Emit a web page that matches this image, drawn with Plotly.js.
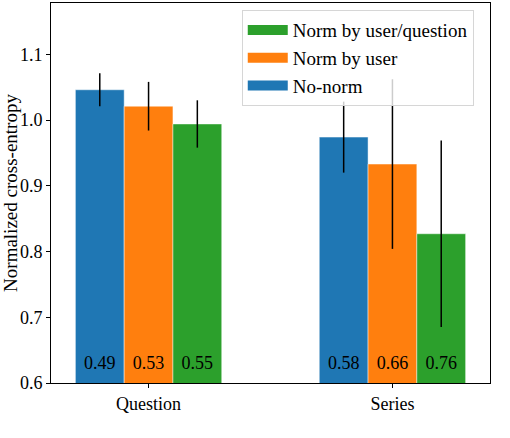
<!DOCTYPE html>
<html>
<head>
<meta charset="utf-8">
<script src="https://cdn.plot.ly/plotly-3.0.1.min.js"></script>
<style>
html,body{margin:0;padding:0;background:#fff;}
#chart{width:510px;height:438px;}
</style>
</head>
<body>
<div id="chart"></div>
<script>
var categories = ["Question", "Series"];
var seriesNames = ["No-norm", "Norm by user", "Norm by user/question"];
var noNorm = [1.046, 0.974];
var normUser = [1.021, 0.933];
var normUserQuestion = [0.994, 0.827];
var errNoNorm = [0.025, 0.054];
var errNormUser = [0.037, 0.129];
var errNormUserQuestion = [0.036, 0.142];
var labelsNoNorm = ["0.49", "0.58"];
var labelsNormUser = ["0.53", "0.66"];
var labelsNormUserQuestion = ["0.55", "0.76"];
var yTicks = [0.6, 0.7, 0.8, 0.9, 1.0, 1.1];
var yTickText = ["0.6", "0.7", "0.8", "0.9", "1.0", "1.1"];

var colors = ["#1f77b4", "#ff7f0e", "#2ca02c"];
var font = "Liberation Serif";
var yMin = 0.6, yMax = 1.178;
var labelLevel = yMin + 0.05 * (yMax - yMin);

function bar(name, vals, errs, color, idx) {
  return {
    type: "bar", name: name, x: categories, y: vals,
    offsetgroup: String(idx), alignmentgroup: "a",
    marker: {color: color, line: {color: "rgba(255,255,255,0.45)", width: 1}},
    error_y: {type: "data", array: errs, visible: true, color: "#000", thickness: 1.5, width: 0},
    showlegend: false, hoverinfo: "none"
  };
}
function legendPatch(name, color, rank) {
  return {
    type: "scatter", mode: "lines", name: name, x: [null], y: [null],
    line: {color: color, width: 13}, legendrank: rank, showlegend: true, hoverinfo: "none"
  };
}
function labels(txt, idx) {
  return {
    type: "scatter", mode: "text", x: categories, y: categories.map(function(){return labelLevel;}),
    offsetgroup: String(idx), alignmentgroup: "a",
    text: txt, textposition: "middle center",
    textfont: {family: font, size: 18, color: "#000"},
    showlegend: false, hoverinfo: "none", cliponaxis: false
  };
}

var data = [
  bar(seriesNames[0], noNorm, errNoNorm, colors[0], 0),
  bar(seriesNames[1], normUser, errNormUser, colors[1], 1),
  bar(seriesNames[2], normUserQuestion, errNormUserQuestion, colors[2], 2),
  labels(labelsNoNorm, 0),
  labels(labelsNormUser, 1),
  labels(labelsNormUserQuestion, 2),
  legendPatch(seriesNames[2], colors[2], 1),
  legendPatch(seriesNames[1], colors[1], 2),
  legendPatch(seriesNames[0], colors[0], 3)
];

var layout = {
  width: 510, height: 438,
  margin: {l: 51, r: 20, t: 3, b: 55},
  paper_bgcolor: "#fff", plot_bgcolor: "#fff",
  font: {family: font, size: 18, color: "#000"},
  barmode: "group", bargap: 0.4, bargroupgap: 0,
  scattermode: "group", scattergap: 0.4,
  showlegend: true,
  legend: {
    traceorder: "normal", x: 0.963, xanchor: "right", y: 0.981, yanchor: "top",
    bgcolor: "rgba(255,255,255,0.8)", bordercolor: "#d6d6d6", borderwidth: 1,
    font: {family: font, size: 19, color: "#000"}, tracegroupgap: 0, itemwidth: 40
  },
  xaxis: {
    type: "category", range: [-0.4, 1.4], showgrid: false, zeroline: false,
    showline: true, linecolor: "#000", linewidth: 1, mirror: true,
    ticks: "outside", ticklen: 4, tickcolor: "#000",
    tickfont: {family: font, size: 18, color: "#000"}
  },
  yaxis: {
    range: [yMin, yMax], tickvals: yTicks, ticktext: yTickText,
    showgrid: false, zeroline: false,
    showline: true, linecolor: "#000", linewidth: 1, mirror: true,
    ticks: "outside", ticklen: 4, tickcolor: "#000",
    tickfont: {family: font, size: 18, color: "#000"},
    title: {text: "Normalized cross-entropy", font: {family: font, size: 19, color: "#000"}, standoff: 8}
  }
};

Plotly.newPlot("chart", data, layout, {displayModeBar: false, staticPlot: true});
</script>
</body>
</html>
